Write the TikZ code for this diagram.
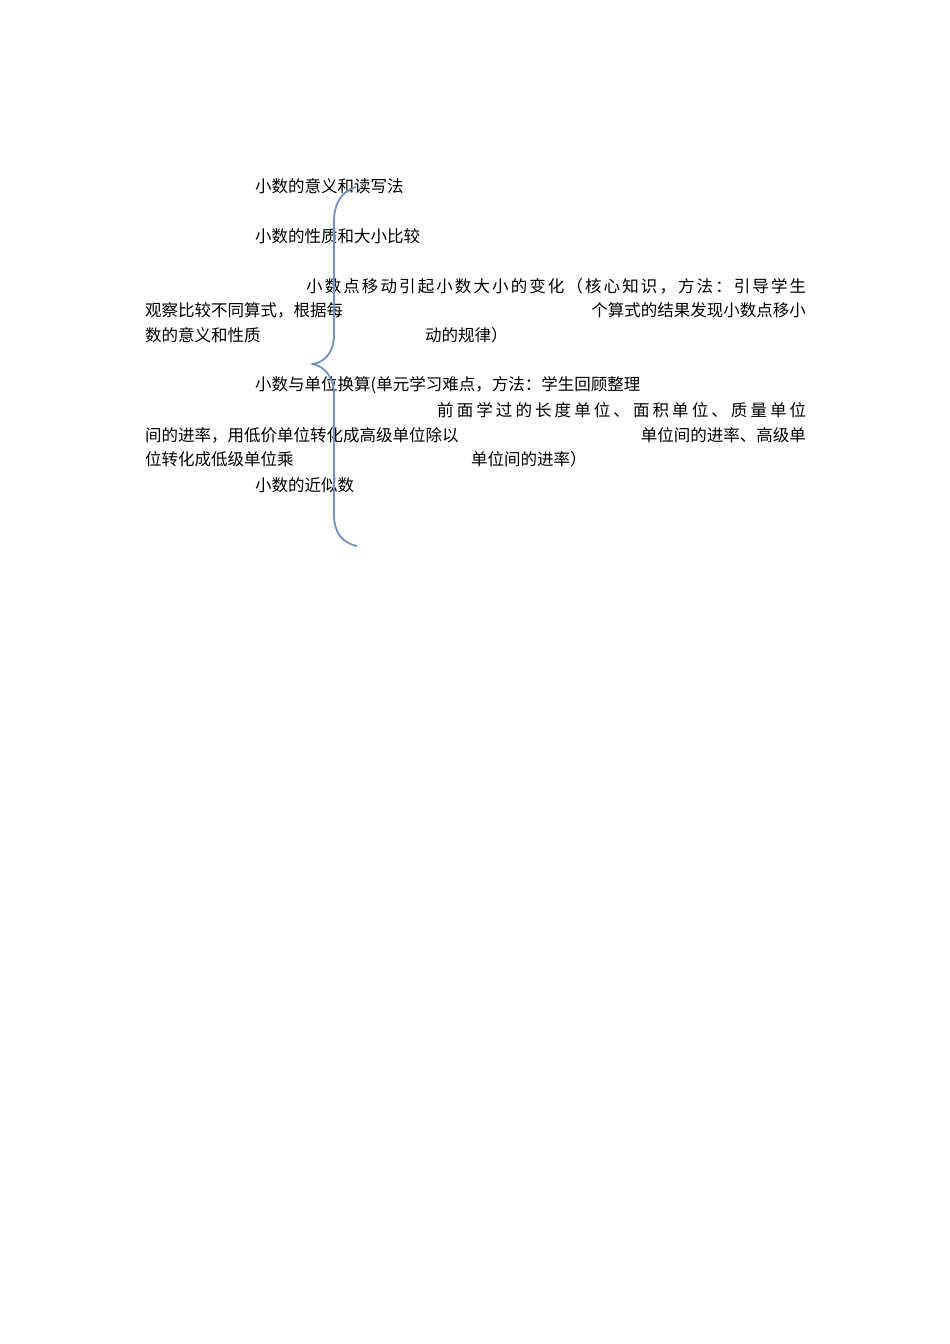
\documentclass[tikz,border=0pt]{standalone}
\usepackage{fontspec}
\newfontfamily\cjk{Noto Sans CJK SC}
\definecolor{bracecol}{HTML}{7193BD}
\def\sprA#1{#1\sprB}
\def\sprB#1{\ifx#1\relax\else\hfill#1\expandafter\sprB\fi}
\newcommand\spreadbox[2]{\hbox to #1{\sprA #2\relax}}
\begin{document}
\begin{tikzpicture}[x=1pt,y=-1pt,
  txt/.style={anchor=west,inner sep=0pt,font=\cjk\fontsize{16.5}{20}\selectfont},
  txtr/.style={txt,anchor=east},
  bracepath/.style={draw=bracecol,line width=1.8pt}]
\useasboundingbox (0,0) rectangle (950,1344);
\fill[white] (0,0) rectangle (950,1344);
\node[txt] (a1) at (255,186) {小数的意义和读写法};
\node[txt] (a2) at (255,236) {小数的性质和大小比较};
\node[txt] (b1) at (306,286) {\spreadbox{500pt}{小数点移动引起小数大小的变化（核心知识，方法：引导学生}};
\node[txt] (b2) at (145,310) {观察比较不同算式，根据每};
\node[txtr] (b3) at (806,310) {个算式的结果发现小数点移小};
\node[txt] (b4) at (145,335) {数的意义和性质};
\node[txt] (b5) at (425,335) {动的规律）};
\node[txt] (c1) at (255,385) {小数与单位换算(单元学习难点，方法：学生回顾整理};
\node[txt] (c2) at (437,410) {\spreadbox{369pt}{前面学过的长度单位、面积单位、质量单位}};
\node[txt] (c3) at (145,435) {间的进率，用低价单位转化成高级单位除以};
\node[txtr] (c4) at (806,435) {单位间的进率、高级单};
\node[txt] (c5) at (145,459) {位转化成低级单位乘};
\node[txt] (c6) at (471,459) {单位间的进率）};
\node[txt] (d1) at (255,485) {小数的近似数};
\draw[bracepath] (356,187) .. controls (340,192) and (334,205) .. (334,222)
  -- (334,335) .. controls (334,352) and (325,362) .. (313,364)
  .. controls (325,367) and (334,377) .. (334,395)
  -- (334,515) .. controls (334,532) and (342,543) .. (357,546);
\end{tikzpicture}
\end{document}
